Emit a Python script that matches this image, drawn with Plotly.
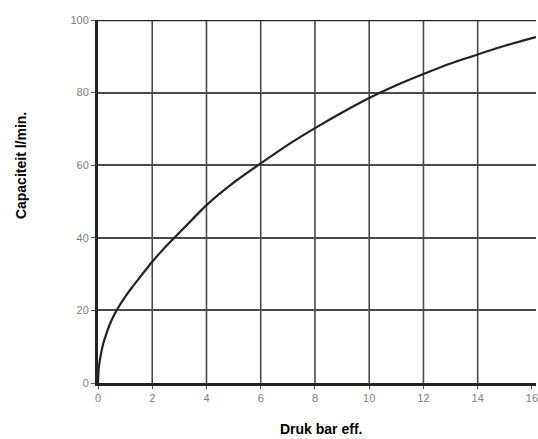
import plotly.graph_objects as go

# Data
pressure = [0, 0.02, 0.05, 0.1, 0.2, 0.3, 0.4, 0.5, 0.6, 0.75, 1, 1.25, 1.5, 2, 2.5, 3, 4, 5, 6, 7, 8, 9, 10, 11, 12, 13, 14, 15, 16, 16.2]
capacity = [0, 3.4, 5.4, 7.6, 11, 13.4, 15.5, 17.3, 18.8, 20.8, 23.7, 26.3, 28.7, 33.4, 37.6, 41.4, 49, 55.2, 60.5, 65.6, 70.2, 74.5, 78.5, 82, 85.1, 88, 90.5, 92.9, 95, 95.4]

x_ticks = [0, 2, 4, 6, 8, 10, 12, 14, 16]
y_ticks = [0, 20, 40, 60, 80, 100]
x_grid = [2, 4, 6, 8, 10, 12, 14]

fig = go.Figure()
fig.add_trace(go.Scatter(
    x=pressure, y=capacity, mode="lines",
    line=dict(color="#222222", width=2.2, shape="spline", smoothing=0.5),
    showlegend=False, hoverinfo="skip",
))

shapes = []
for xv in x_grid:
    shapes.append(dict(type="line", xref="x", yref="y", x0=xv, x1=xv, y0=0, y1=100,
                       line=dict(color="#4a4a4a", width=1.6), layer="below"))
# top border
shapes.append(dict(type="line", xref="paper", yref="y", x0=0, x1=1, y0=100, y1=100,
                   line=dict(color="#222222", width=2.6), layer="above"))

fig.update_layout(
    width=538, height=439,
    margin=dict(l=98, r=0, t=20, b=56),
    paper_bgcolor="white", plot_bgcolor="white",
    font=dict(family="Liberation Sans, Arial, sans-serif"),
    shapes=shapes,
    xaxis=dict(
        range=[0, 16.15], tickvals=x_ticks, ticktext=[str(v) for v in x_ticks],
        showgrid=False, zeroline=False,
        showline=True, linecolor="#222222", linewidth=3,
        ticks="outside", ticklen=3, tickcolor="#555555", tickwidth=1,
        tickfont=dict(size=11, color="#808080"),
        ticklabeloverflow="allow",
    ),
    yaxis=dict(
        range=[0, 100], tickvals=y_ticks, ticktext=[str(v) for v in y_ticks],
        showgrid=True, gridcolor="#4a4a4a", gridwidth=1.6, zeroline=False,
        showline=True, linecolor="#222222", linewidth=3,
        ticks="outside", ticklen=4, tickcolor="#555555", tickwidth=1,
        tickfont=dict(size=11, color="#808080"),
    ),
    annotations=[
        dict(text="<b>Druk bar eff.</b>", xref="paper", yref="paper",
             x=0.508, y=-0.1, yanchor="top", showarrow=False,
             font=dict(size=14, color="black")),
        dict(text="<b>Capaciteit l/min.</b>", xref="paper", yref="paper",
             x=-0.176, xanchor="center", y=0.60, yanchor="middle", textangle=-90,
             showarrow=False, font=dict(size=14, color="black")),
    ],
)

fig.write_html(
    "out.html",
    config={"displayModeBar": False},
    post_script="document.body.style.margin='0';document.body.style.overflow='hidden';",
)
